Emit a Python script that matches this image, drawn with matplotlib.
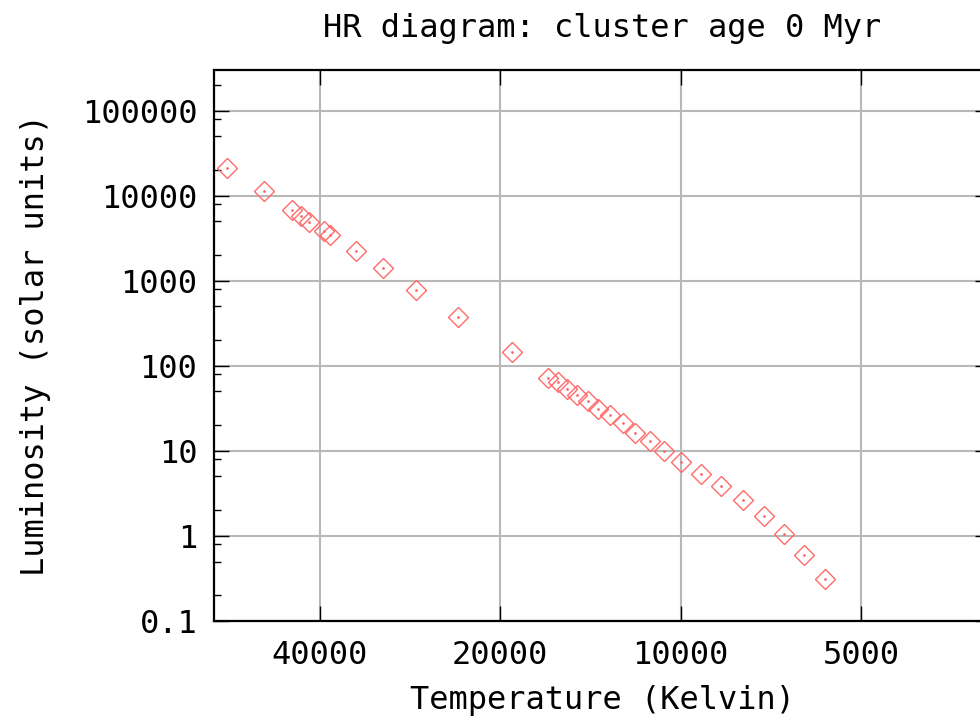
import matplotlib
matplotlib.use("Agg")
import matplotlib.pyplot as plt
from matplotlib.ticker import FixedLocator, NullFormatter

# star temperatures (K) and luminosities (solar units)
temperature = [57000, 49600, 44400, 43000, 41600, 39400, 38500, 34800, 31400,
               27600, 23500, 19100, 16640, 16010, 15460, 14880, 14260, 13740,
               13140, 12470, 11940, 11270, 10650, 9990, 9250, 8570, 7880,
               7270, 6730, 6240, 5750]
luminosity = [21400, 11450, 6840, 5820, 4940, 3870, 3480, 2255, 1422,
              783, 377, 146, 72.8, 64.8, 53.6, 45.2, 38.4, 30.9,
              26.3, 21.4, 16.4, 13.0, 10.0, 7.48, 5.36, 3.84, 2.63,
              1.72, 1.04, 0.598, 0.31]

x_ticks = [40000, 20000, 10000, 5000]
y_ticks = [0.1, 1, 10, 100, 1000, 10000, 100000]
y_labels = ["0.1", "1", "10", "100", "1000", "10000", "100000"]

plt.rcParams['font.family'] = ['DejaVu Sans Mono']

fig = plt.figure(figsize=(9.8, 7.21), dpi=100)
ax = fig.add_axes([214 / 980, 100 / 721, (990 - 214) / 980, 551 / 721])

col = '#ff6a6a'
ax.plot(temperature, luminosity, linestyle='none', marker='D', markersize=10,
        markerfacecolor='none', markeredgecolor=col, markeredgewidth=1.0)
ax.plot(temperature, luminosity, linestyle='none', marker='.', markersize=2,
        color=col)

ax.set_xscale('log')
ax.set_yscale('log')
ax.set_xlim(60000, 3050)
ax.set_ylim(0.1, 3.0e5)

ax.set_xticks(x_ticks)
ax.set_xticklabels([str(t) for t in x_ticks])
ax.xaxis.set_minor_locator(FixedLocator([]))
ax.set_yticks(y_ticks)
ax.set_yticklabels(y_labels)
minors = []
for d in [0.1, 1, 10, 100, 1000, 10000, 100000]:
    for m in (2, 5, 8):
        minors.append(d * m)
ax.yaxis.set_minor_locator(FixedLocator(minors))
ax.yaxis.set_minor_formatter(NullFormatter())

ax.tick_params(axis='both', which='major', direction='in', length=11,
               width=1, top=True, right=True, labelsize=23, pad=12)
ax.tick_params(axis='x', which='major', pad=14)
ax.tick_params(axis='y', which='minor', direction='in', length=5,
               width=1, right=True)
ax.grid(True, which='major', color='#b8b8b8', linewidth=1.5)
ax.set_axisbelow(True)
for s in ax.spines.values():
    s.set_linewidth(1.6)

ax.set_title("HR diagram: cluster age 0 Myr", fontsize=23, pad=24)
ax.set_xlabel("Temperature (Kelvin)", fontsize=23, labelpad=10)
ax.set_ylabel("Luminosity (solar units)", fontsize=23, labelpad=22)

fig.savefig("out.png", dpi=100)
